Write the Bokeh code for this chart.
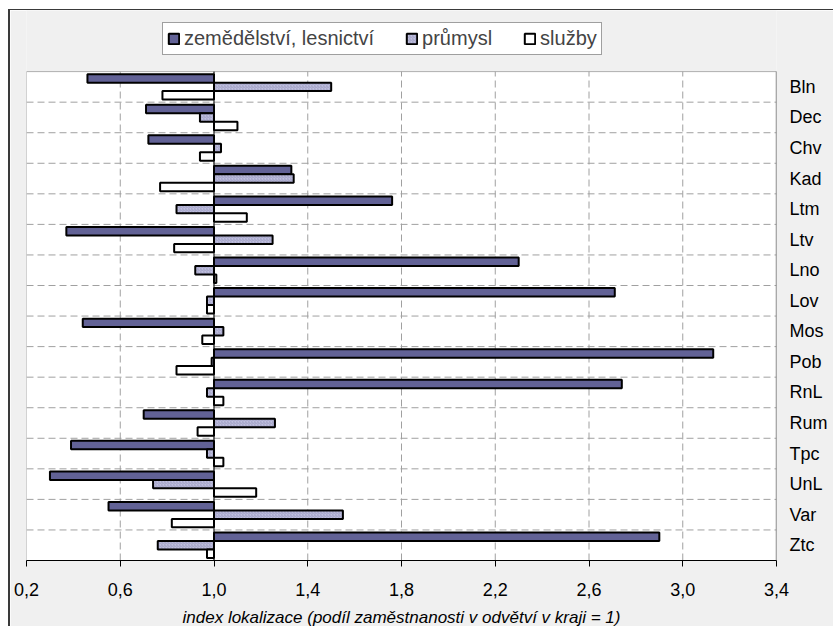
from bokeh.plotting import figure
from bokeh.models import (Range1d, FixedTicker, Legend, LegendItem, BoxAnnotation,
                          CustomJSTickFormatter, ColumnDataSource)
from bokeh.embed import file_html
from bokeh.resources import INLINE

# ---- data ----
regions = ["Bln", "Dec", "Chv", "Kad", "Ltm", "Ltv", "Lno", "Lov",
           "Mos", "Pob", "RnL", "Rum", "Tpc", "UnL", "Var", "Ztc"]
zemedelstvi = [0.46, 0.71, 0.72, 1.33, 1.76, 0.37, 2.30, 2.71,
               0.44, 3.13, 2.74, 0.70, 0.39, 0.30, 0.55, 2.90]
prumysl = [1.50, 0.94, 1.03, 1.34, 0.84, 1.25, 0.92, 0.97,
           1.04, 0.99, 0.97, 1.26, 0.97, 0.74, 1.55, 0.76]
sluzby = [0.78, 1.10, 0.94, 0.77, 1.14, 0.83, 1.01, 0.97,
          0.95, 0.84, 1.04, 0.93, 1.04, 1.18, 0.82, 0.97]
series_names = ["zemědělství, lesnictví", "průmysl", "služby"]
x_ticks = [0.2, 0.6, 1.0, 1.4, 1.8, 2.2, 2.6, 3.0, 3.4]
baseline = 1.0
x_title = "index lokalizace (podíl zaměstnanosti v odvětví v kraji = 1)"

FONT = "Liberation Sans"
BAR_H = 0.277
TOP_PAD = 2.0          # room above the plot area (in category units) for the legend
GRID = "#a0a0a0"
DASH = "7 4"

n = len(regions)
ypos = [n - i - 0.5 for i in range(n)]      # first region on top
x0, x1 = x_ticks[0], x_ticks[-1]

src = ColumnDataSource(dict(
    y=ypos,
    y_zem=[y + BAR_H for y in ypos],
    y_prum=ypos,
    y_sluz=[y - BAR_H for y in ypos],
    zem=zemedelstvi, prum=prumysl, sluz=sluzby))

p = figure(
    y_range=Range1d(0, n + TOP_PAD),
    x_range=Range1d(x0, x1),
    frame_width=750, frame_height=550,
    min_border_left=16, min_border_top=0, min_border_right=57, min_border_bottom=40,
    y_axis_location="right",
    output_backend="svg", toolbar_location=None,
    background_fill_color="#f0f0f0", border_fill_color="#f0f0f0",
    outline_line_color=None,
)
p.styles = {"margin-left": "8px", "margin-top": "9px",
            "border-left": "2px solid #3a3a3a", "border-top": "1px solid #3a3a3a"}
p.xgrid.visible = False
p.ygrid.visible = False

# white plot area
p.add_layout(BoxAnnotation(left=x0, right=x1, bottom=0, top=n, fill_color="white",
                           fill_alpha=1, line_color="black", line_width=1, level="underlay"))

# dashed grid lines (vertical at ticks, horizontal between categories)
inner_ticks = x_ticks[1:-1]
p.segment(x0=inner_ticks, y0=[0] * len(inner_ticks), x1=inner_ticks, y1=[n] * len(inner_ticks),
          line_color=GRID, line_dash=DASH, line_width=1)
bounds = list(range(1, n))
p.segment(x0=[x0] * len(bounds), y0=bounds, x1=[x1] * len(bounds), y1=bounds,
          line_color=GRID, line_dash=DASH, line_width=1)
# right edge of plot area (category axis line)
p.segment(x0=[x1], y0=[0], x1=[x1], y1=[n], line_color="#808080", line_width=1.5)

# bars
r_zem = p.hbar(y="y_zem", left=baseline, right="zem", height=BAR_H, source=src,
               fill_color="#626296", line_color="black", line_width=2)
r_prum = p.hbar(y="y_prum", left=baseline, right="prum", height=BAR_H, source=src,
                fill_color="#c0c0de", line_color="black", line_width=2,
                hatch_pattern="right_diagonal_line", hatch_color="#a4a4c8",
                hatch_scale=3, hatch_weight=1)
r_sluz = p.hbar(y="y_sluz", left=baseline, right="sluz", height=BAR_H, source=src,
                fill_color="white", line_color="black", line_width=2)

# axis line at the baseline
p.segment(x0=[baseline], y0=[0], x1=[baseline], y1=[n], line_color="black", line_width=1)

# x axis
xa = p.xaxis[0]
xa.ticker = FixedTicker(ticks=x_ticks)
xa.formatter = CustomJSTickFormatter(code="return tick.toFixed(1).replace('.', ',');")
xa.major_label_text_font = FONT
xa.major_label_text_font_size = "18px"
xa.major_label_text_color = "black"
xa.major_tick_out = 6
xa.major_tick_in = 0
xa.minor_tick_out = 0
xa.minor_tick_in = 0
xa.major_label_standoff = 16
xa.axis_line_color = "black"
xa.major_tick_line_color = "black"
xa.axis_label = x_title
xa.axis_label_text_font = FONT
xa.axis_label_text_font_style = "italic"
xa.axis_label_text_font_size = "17px"
xa.axis_label_text_color = "black"
xa.axis_label_standoff = 9

# category axis on the right
ya = p.yaxis[0]
ya.ticker = FixedTicker(ticks=ypos)
ya.formatter = CustomJSTickFormatter(args=dict(names=regions),
                                     code="return names[names.length - 1 - Math.floor(tick)];")
ya.major_label_text_font = FONT
ya.major_label_text_font_size = "18px"
ya.major_label_text_color = "black"
ya.major_tick_out = 0
ya.major_tick_in = 0
ya.minor_tick_out = 0
ya.minor_tick_in = 0
ya.major_label_standoff = 13
ya.axis_line_color = None

legend = Legend(items=[LegendItem(label=series_names[0], renderers=[r_zem]),
                       LegendItem(label=series_names[1], renderers=[r_prum]),
                       LegendItem(label=series_names[2], renderers=[r_sluz])],
                orientation="horizontal", location=(136, 505), margin=0, padding=4,
                spacing=31, label_standoff=4, glyph_width=13, glyph_height=13,
                label_text_font=FONT, label_text_font_size="20px",
                border_line_color="#404040", border_line_width=1,
                background_fill_color="white", background_fill_alpha=1)
p.add_layout(legend)

open("out.html", "w").write(file_html(p, INLINE))
